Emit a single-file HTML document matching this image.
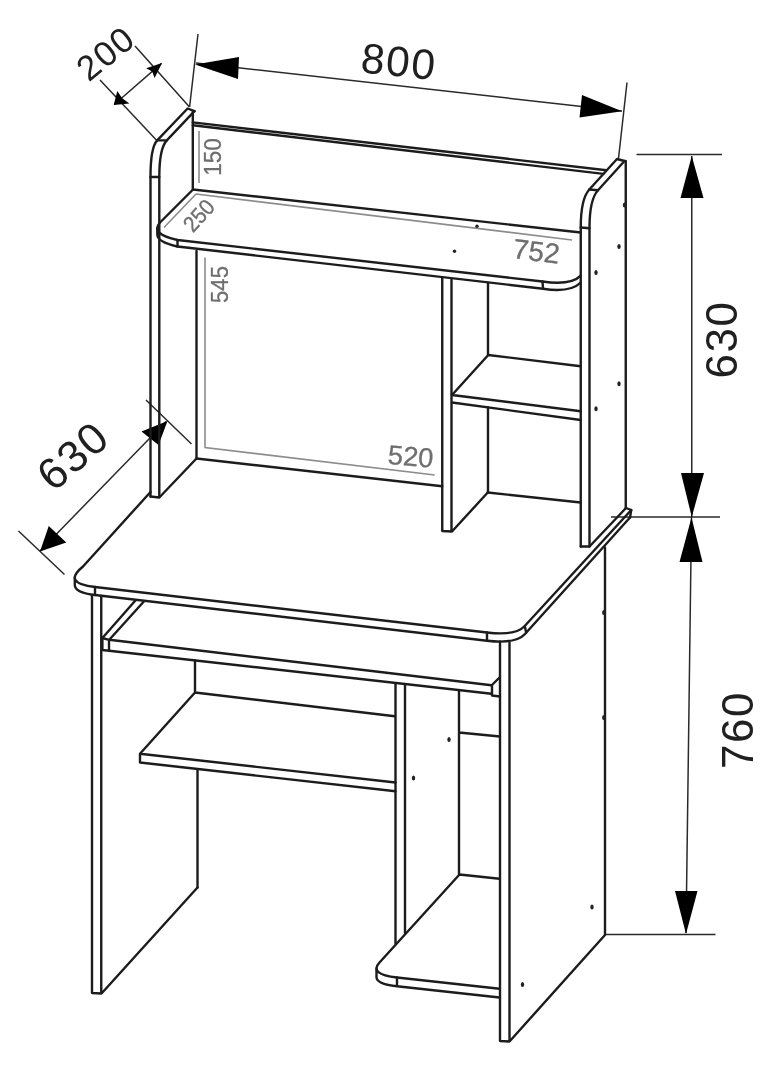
<!DOCTYPE html>
<html><head><meta charset="utf-8"><title>Desk dimensions</title>
<style>
html,body{margin:0;padding:0;background:#fff;}
svg{display:block;filter:blur(0.45px);}
#wrap{width:784px;height:1080px;overflow:hidden;will-change:transform;transform:translateZ(0);}
text{font-family:"Liberation Sans",sans-serif;}
.m{stroke:#1c1c1c;stroke-width:2.4;fill:none;stroke-linecap:round;stroke-linejoin:round;}
.d{stroke:#2a2a2a;stroke-width:1.5;fill:none;}
.g{stroke:#8c8c8c;stroke-width:1.6;fill:none;}
.a{fill:#000;stroke:none;}
.big{font-size:44px;fill:#202020;text-anchor:middle;letter-spacing:1.6px;}
.sm{fill:#6e6e6e;text-anchor:middle;stroke:#6e6e6e;stroke-width:0.3;}
.dot{fill:#222;}
</style></head>
<body>
<div id="wrap">
<svg width="784" height="1080" viewBox="0 0 784 1080">
<rect width="784" height="1080" fill="#fff"/>

<!-- ===== dimension lines ===== -->
<g id="dims">
<!-- 200 -->
<path class="d" d="M135,46 L189.5,107 M100,80 L156.8,140.6 M114.5,104.2 L161.5,63.4"/>
<path class="a" d="M162,63 L154.6,78 L152.2,71.6 L146.2,68.3 Z M113.7,105 L117.3,91 L122.2,98.2 L129.4,103.5 Z"/>
<text class="big" style="font-size:35px" transform="translate(105.5,53) rotate(-39)" y="12.5">200</text>
<!-- 800 -->
<path class="d" d="M198,34 L189.6,107 M627,82.5 L618.5,158.5 M196,63 L622,111"/>
<path class="a" d="M195,64.5 L239,57 L238,79 Z M622,111.2 L582,95 L579.5,117.5 Z"/>
<text class="big" style="font-size:42.5px" transform="translate(399,61) rotate(6)" y="15.2">800</text>
<!-- 630 right -->
<path class="d" d="M636.5,154.5 L722,154.5 M611,517 L720,517 M691.75,156 L691.75,517"/>
<path class="a" d="M691.75,156 L680.5,198 L703.5,198 Z M691.75,517 L681,473 L704,473 Z"/>
<text class="big" transform="translate(721,339.5) rotate(-90)" y="16">630</text>
<!-- 760 -->
<path class="d" d="M691.5,517 L686,933 M604,934.5 L715.5,934.5"/>
<path class="a" d="M691.5,517.5 L679.5,562 L702.5,562 Z M686,934 L675,891 L697.5,891 Z"/>
<text class="big" transform="translate(736.5,730) rotate(-90)" y="16">760</text>
<!-- 630 left -->
<path class="d" d="M146,400 L191.5,444 M18.5,531 L64.5,574.5 M166,421.5 L40,551"/>
<path class="a" d="M167.5,421 L141.5,431.5 L158.5,445 Z M40,551.5 L48.75,526 L66.25,542.5 Z"/>
<text class="big" transform="translate(72.5,455) rotate(-41)" y="16">630</text>
</g>

<!-- ===== grey inner dimensions ===== -->
<g id="grey">
<path class="g" d="M199,131 L199,183"/>
<text class="sm" style="font-size:24.5px" transform="translate(212.6,157) rotate(-90) scale(0.92,1)" y="8.8">150</text>
<path class="g" d="M196,194 L164,227.5 M196,194 L572,240"/>
<text class="sm" style="font-size:22.5px" transform="translate(198.6,215.4) rotate(-48) scale(0.92,1)" y="8">250</text>
<text class="sm" style="font-size:28px" transform="translate(536.5,251) rotate(7)" y="10">752</text>
<path class="g" d="M205,257.5 L205,447.5 L434.75,475"/>
<text class="sm" style="font-size:24.5px" transform="translate(219,284.5) rotate(-90) scale(0.9,1)" y="8.8">545</text>
<text class="sm" style="font-size:27.3px" transform="translate(410.8,456) rotate(4.5)" y="9.8">520</text>
</g>

<!-- ===== hutch ===== -->
<g id="hutch">
<!-- left side panel -->
<path class="m" d="M150.5,496.5 L150.5,177 Q150.5,147.4 157.2,140.4 L187.6,108.5 L194.5,111.2"/>
<path class="m" d="M159.3,497 L159.3,177 Q159.3,148.4 166.8,140.4 L194.5,111.2"/>
<path class="m" d="M150.5,177 L159.3,177 M157.2,140.4 L166.8,140.4 M150.5,496.5 L159.3,497.5 L196.5,458.5"/>
<path class="m" d="M192.8,111.5 L192.8,189.5 M196.5,251 L196.5,458.5"/>
<!-- back panel top -->
<path class="m" d="M192.8,122.4 L606.5,170.2 M192.8,125.3 L603.5,173.9"/>
<!-- upper shelf -->
<path class="m" d="M193,189.5 L580.75,232.5"/>
<path class="m" d="M193,189.5 L160,222.5 Q150,234 177.5,240 L542.5,281.5 Q571,285.6 580.75,275.6"/>
<path class="m" d="M157.3,228 L157.3,234.5 Q157.4,242.1 177.5,246.5 L543,288.75 Q570.3,293 580.75,282.5"/>
<path class="m" d="M177.5,240 L177.5,246.5 M542.5,281.5 L543,288.75"/>
<!-- divider -->
<path class="m" d="M442.25,278 L442.25,531 L452,531.5 L487.75,492.5 M451.5,279.5 L451.5,531.5"/>
<path class="m" d="M488,283 L488,355 M488,407.5 L488,492.5"/>
<!-- small shelf -->
<path class="m" d="M488.25,355 L580.75,366.25 M488.25,355 L452,395 L580.75,411.25 M452,402.5 L580.75,420"/>
<!-- back panel bottom -->
<path class="m" d="M196.5,458.5 L442.25,486.25 M487.75,492.5 L580.75,502.5"/>
<!-- right side panel -->
<path class="m" d="M580.75,546.5 L580.75,227.5 Q580.75,198.9 589.3,189.5 L617,159 L624.5,161"/>
<path class="m" d="M589.5,546.5 L589.5,228 Q589.5,199.5 598,190.3 L624.5,161"/>
<path class="m" d="M580.75,227.5 L589.5,228.3 M589.3,189.5 L598,190.3 M580.75,546.5 L589.5,546.5 L626,508"/>
<path class="m" d="M625.75,161 L625.75,508"/>
<ellipse class="dot" cx="624.5" cy="205" rx="1.7" ry="2.5"/><ellipse class="dot" cx="619" cy="246.5" rx="1.7" ry="2.5"/>
<ellipse class="dot" cx="596" cy="272.5" rx="1.7" ry="2.5"/><ellipse class="dot" cx="619" cy="383.75" rx="1.7" ry="2.5"/>
<ellipse class="dot" cx="596" cy="408.75" rx="1.7" ry="2.5"/>
<circle class="dot" cx="477" cy="226.25" r="1.7"/><circle class="dot" cx="454.5" cy="251.25" r="1.7"/>
</g>

<!-- ===== desk ===== -->
<g id="desk">
<!-- top -->
<path class="m" d="M150.5,492 L83,566.5 Q62,583.5 95,587 L487,632.5 Q515.7,635.8 524.5,626.25 L631.25,510"/>
<path class="m" d="M74.8,577.1 L74.8,585 Q74.9,592.6 95,595 L487,640.75 Q515.9,644.1 525,634 L630,517.5"/>
<path class="m" d="M95,587 L95,595 M487,632.5 L487,640.75 M626,508 L631.25,510 L630,517.5 M524.85,626.35 L526.1,632.6"/>
<!-- left leg -->
<path class="m" d="M92,595 L92,993 L101.5,993.5 L197.5,887.5 M101.25,596 L101.25,993"/>
<path class="m" d="M197.5,769.5 L197.5,887.5"/>
<!-- keyboard tray -->
<path class="m" d="M135.4,600.5 L102.4,638 L102.4,650 L491.5,693.75 M143.4,602 L109.3,639.8 L491.5,685.3"/>
<path class="m" d="M102.4,638 L109,639.8 L109,650.7"/>
<path class="m" d="M492,685 L492,695.5 L500,696.5 M492,685 L499.5,677.5"/>
<!-- back panel + lower shelf -->
<path class="m" d="M195,660.5 L195,692.5 L394.75,716.25 M195,692.5 L140,753.75 L395.5,782.5 M140,753.75 L140,762.5 L395.5,791.25"/>
<!-- middle divider -->
<path class="m" d="M395.5,683.5 L395.5,943.5 M405,684.5 L405,933"/>
<!-- right compartment -->
<path class="m" d="M459,691 L459,874.5 M459,732.5 L500,736.5"/>
<ellipse class="dot" cx="413.5" cy="778" rx="1.7" ry="2.5"/><ellipse class="dot" cx="449" cy="739.5" rx="1.7" ry="2.5"/>
<!-- bottom shelf -->
<path class="m" d="M459.5,874.5 L499.5,878.75 M459.5,874.5 L379.5,962.5 Q368.7,974.4 397,977.5 L499.5,988.75"/>
<path class="m" d="M376.5,968.5 L376.5,977.25 Q376.5,984 397,986.25 L499.5,997.5 M397,977.5 L397,986.25"/>
<!-- right leg -->
<path class="m" d="M500,641.5 L500,1041 L509.5,1041.5 L605,935 L605,547.5 M509.5,642.5 L509.5,1041"/>
<ellipse class="dot" cx="603.75" cy="612.5" rx="1.7" ry="2.5"/><ellipse class="dot" cx="603.75" cy="717.5" rx="1.7" ry="2.5"/>
<ellipse class="dot" cx="592" cy="907" rx="1.7" ry="2.5"/><ellipse class="dot" cx="522.5" cy="984.5" rx="1.7" ry="2.5"/>
</g>
</svg>
</div>
</body></html>
